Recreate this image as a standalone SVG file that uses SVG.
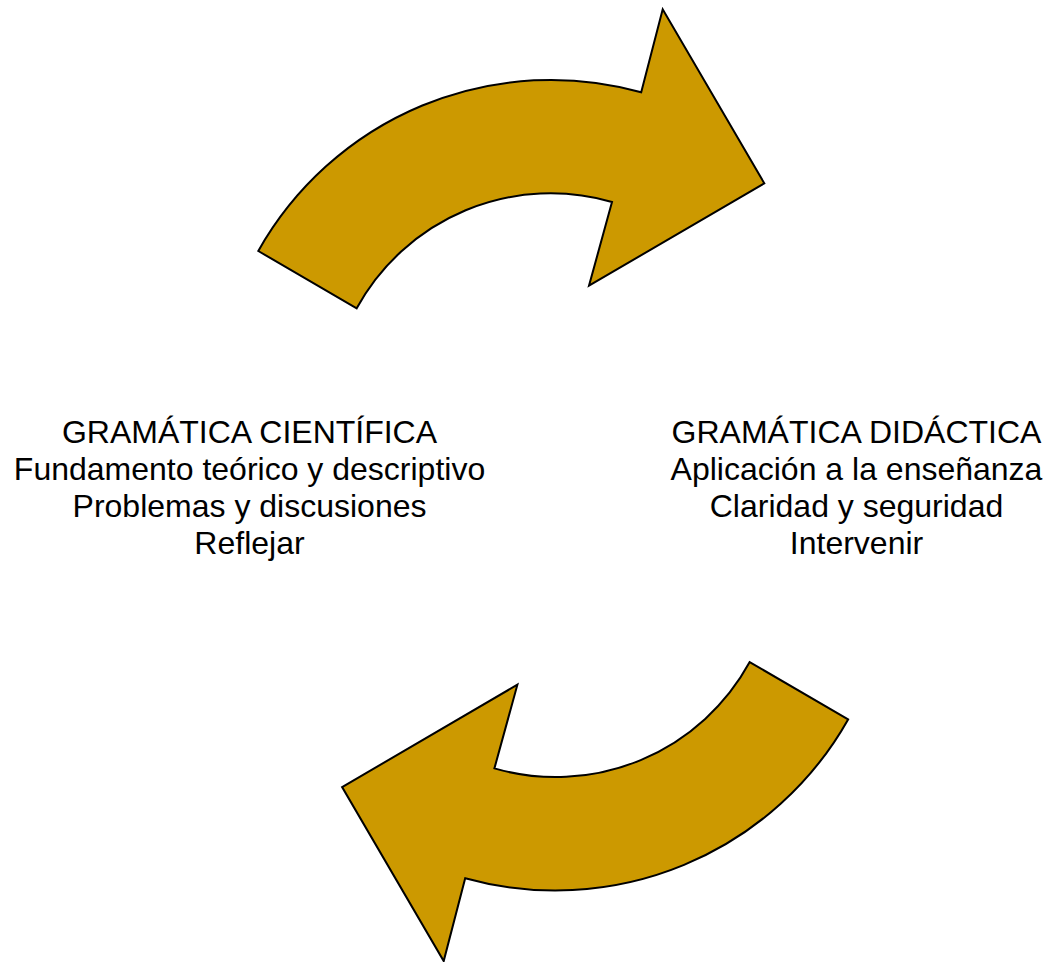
<svg xmlns="http://www.w3.org/2000/svg" width="1050" height="962" viewBox="0 0 1050 962">
<style>
.arrow{fill:#CC9900;stroke:#000;stroke-width:2;stroke-linejoin:miter}
.t{font-family:"Liberation Sans",Arial,sans-serif;font-size:32px;fill:#000;text-anchor:middle}
</style>
<rect width="1050" height="962" fill="#fff"/>
<g id="connectors">
<path id="arrow-top" class="arrow" d="M258.3,251 A336 336 0 0 1 641.2,92.2 L662.7,9.3 L764.3,183.3 L589,285.7 L612,202 A221 221 0 0 0 356.7,308.3 Z"/>
<path id="arrow-bottom" class="arrow" d="M848.1,719.4 A336 336 0 0 1 465.2,878.2 L443.7,961.1 L342.1,787.1 L517.4,684.7 L494.4,768.4 A221 221 0 0 0 749.7,662.1 Z"/>
</g>
<g id="node-cientifica">
<text class="t" x="249.5" y="442.5">GRAMÁTICA CIENTÍFICA</text>
<text class="t" x="249.5" y="479.8">Fundamento teórico y descriptivo</text>
<text class="t" x="249.5" y="517.1">Problemas y discusiones</text>
<text class="t" x="249.5" y="554.4">Reflejar</text>
</g>
<g id="node-didactica">
<text class="t" x="856.5" y="442.5">GRAMÁTICA DIDÁCTICA</text>
<text class="t" x="856.5" y="479.8">Aplicación a la enseñanza</text>
<text class="t" x="856.5" y="517.1">Claridad y seguridad</text>
<text class="t" x="856.5" y="554.4">Intervenir</text>
</g>
</svg>
